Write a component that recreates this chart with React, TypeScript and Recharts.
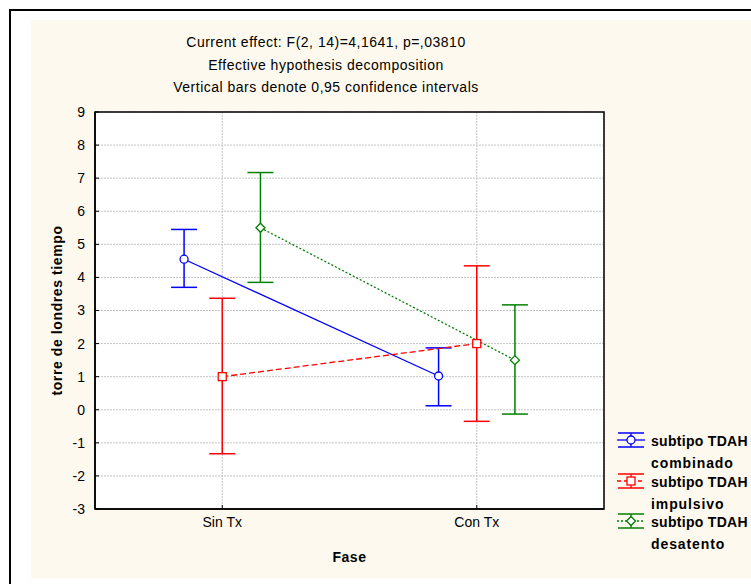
import {
  ComposedChart,
  Line,
  XAxis,
  YAxis,
  CartesianGrid,
  ErrorBar,
  ReferenceArea,
} from "recharts";

const categories = ["Sin Tx", "Con Tx"];
const yTicks = [-3, -2, -1, 0, 1, 2, 3, 4, 5, 6, 7, 8, 9];

const seriesNames = ["subtipo TDAH\ncombinado", "subtipo TDAH\nimpulsivo", "subtipo TDAH\ndesatento"];

const combinadoMean = [4.55, 1.02];
const combinadoLow = [3.7, 0.12];
const combinadoHigh = [5.45, 1.87];

const impulsivoMean = [1.0, 2.0];
const impulsivoLow = [-1.33, -0.35];
const impulsivoHigh = [3.37, 4.35];

const desatentoMean = [5.5, 1.5];
const desatentoLow = [3.85, -0.13];
const desatentoHigh = [7.17, 3.17];

const titleLines = [
  "Current effect: F(2, 14)=4,1641, p=,03810",
  "Effective hypothesis decomposition",
  "Vertical bars denote 0,95 confidence intervals",
];

const FONT = "'Liberation Sans', Arial, sans-serif";
const COLORS = ["#0000ff", "#ff0000", "#008000"];
const DASHES = [undefined, "6 3", "2 2"];
const OFFSETS = [-0.15, 0, 0.15];

function build(mean: number[], low: number[], high: number[], s: number) {
  return mean.map((m, i) => ({
    x: i + 0.5 + OFFSETS[s],
    y: m,
    err: [m - low[i], high[i] - m],
  }));
}

const series = [
  build(combinadoMean, combinadoLow, combinadoHigh, 0),
  build(impulsivoMean, impulsivoLow, impulsivoHigh, 1),
  build(desatentoMean, desatentoLow, desatentoHigh, 2),
];

function Marker({ s, cx, cy }: { s: number; cx: number; cy: number }) {
  const c = COLORS[s];
  if (s === 0) return <circle cx={cx} cy={cy} r={4} fill="#fff" stroke={c} strokeWidth={1.3} />;
  if (s === 1)
    return <rect x={cx - 4} y={cy - 4} width={8} height={8} fill="#fff" stroke={c} strokeWidth={1.3} />;
  return (
    <path
      d={`M${cx},${cy - 4.5}L${cx + 4.5},${cy}L${cx},${cy + 4.5}L${cx - 4.5},${cy}Z`}
      fill="#fff"
      stroke={c}
      strokeWidth={1.3}
    />
  );
}

function LegendIcon({ s }: { s: number }) {
  const c = COLORS[s];
  return (
    <svg width={28} height={16} style={{ display: "block" }}>
      <line x1={1} y1={1} x2={27} y2={1} stroke={c} strokeWidth={1.5} />
      <line x1={1} y1={15} x2={27} y2={15} stroke={c} strokeWidth={1.5} />
      <line x1={14} y1={1} x2={14} y2={15} stroke={c} strokeWidth={1.3} />
      <line x1={0} y1={8} x2={28} y2={8} stroke={c} strokeWidth={1.3} strokeDasharray={s === 2 ? "2 2" : s === 1 ? "4 3" : undefined} />
      <Marker s={s} cx={14} cy={8} />
    </svg>
  );
}

export default function App() {
  return (
    <div
      style={{
        position: "fixed",
        left: 0,
        top: 0,
        width: 751,
        height: 584,
        overflow: "hidden",
        background: "#fff",
        fontFamily: FONT,
      }}
    >
      <div
        style={{
          position: "absolute",
          left: 9,
          top: 9,
          width: 800,
          height: 600,
          borderLeft: "2px solid #000",
          borderTop: "2px solid #000",
        }}
      />
      <div
        style={{
          position: "absolute",
          left: 31,
          top: 20,
          width: 720,
          height: 558,
          background: "#fef9ee",
        }}
      />
      {titleLines.map((t, i) => (
        <div
          key={i}
          style={{
            position: "absolute",
            left: 126,
            width: 400,
            top: 33 + i * 22.5,
            textAlign: "center",
            fontSize: 14,
            letterSpacing: 0.5,
            lineHeight: "18px",
            color: "#000",
          }}
        >
          {t}
        </div>
      ))}
      <div style={{ position: "absolute", left: 0, top: 0 }}>
        <ComposedChart
          width={751}
          height={584}
          margin={{ top: 112, right: 147, bottom: 45, left: 0 }}
        >
          <CartesianGrid fill="#fff" stroke="#c4c4c4" strokeDasharray="2 1" />
          <XAxis
            dataKey="x"
            type="number"
            domain={[0, 2]}
            ticks={[0.5, 1.5]}
            allowDataOverflow
            height={30}
            tickSize={-4}
            tickMargin={12}
            tickFormatter={(v: number) => categories[Math.round(v - 0.5)]}
            tick={{ fill: "#000", fontSize: 14, fontFamily: FONT }}
            axisLine={{ stroke: "#000", strokeWidth: 1.5 }}
            tickLine={{ stroke: "#000" }}
            label={{
              content: ({ viewBox }: any) => (
                <text
                  x={viewBox.x + viewBox.width / 2}
                  y={557}
                  textAnchor="middle"
                  dominantBaseline="central"
                  fontSize={14}
                  fontWeight="bold"
                  letterSpacing={0.5}
                  fontFamily={FONT}
                  fill="#000"
                >
                  Fase
                </text>
              ),
            }}
          />
          <YAxis
            type="number"
            domain={[-3, 9]}
            ticks={yTicks}
            interval={0}
            width={95}
            tickSize={-4}
            tickMargin={14}
            tick={{ fill: "#000", fontSize: 14, fontFamily: FONT }}
            axisLine={{ stroke: "#000", strokeWidth: 1.5 }}
            tickLine={{ stroke: "#000" }}
            label={{
              content: ({ viewBox }: any) => {
                const cy = viewBox.y + viewBox.height / 2;
                return (
                  <text
                    x={57}
                    y={cy}
                    transform={`rotate(-90, 57, ${cy})`}
                    textAnchor="middle"
                    dominantBaseline="central"
                    fontSize={14}
                    fontWeight="bold"
                    letterSpacing={0.6}
                    fontFamily={FONT}
                    fill="#000"
                  >
                    torre de londres tiempo
                  </text>
                );
              },
            }}
          />
          <ReferenceArea
            x1={0}
            x2={2}
            y1={-3}
            y2={9}
            fill="none"
            stroke="#000"
            strokeWidth={1.5}
            ifOverflow="visible"
          />
          {series.map((data, s) => (
            <Line
              key={s}
              data={data}
              dataKey="y"
              type="linear"
              stroke={COLORS[s]}
              strokeWidth={1.3}
              strokeDasharray={DASHES[s]}
              isAnimationActive={false}
              dot={(p: any) => <Marker key={`d-${s}-${p.index}`} s={s} cx={p.cx} cy={p.cy} />}
              activeDot={false}
            >
              <ErrorBar
                dataKey="err"
                direction="y"
                width={13}
                stroke={COLORS[s]}
                strokeWidth={1.5}
                isAnimationActive={false}
              />
            </Line>
          ))}
        </ComposedChart>
      </div>
      <div style={{ position: "absolute", left: 617, top: 432 }}>
        {seriesNames.map((n, s) => {
          const [a, b] = n.split("\n");
          return (
            <div key={s} style={{ position: "absolute", top: s * 40.5, left: 0, width: 134 }}>
              <div style={{ position: "absolute", left: 0, top: 0 }}>
                <LegendIcon s={s} />
              </div>
              <div
                style={{
                  position: "absolute",
                  left: 34,
                  top: -2,
                  fontSize: 14,
                  fontWeight: "bold",
                  letterSpacing: 0.3,
                  lineHeight: "22px",
                  color: "#000",
                  whiteSpace: "nowrap",
                }}
              >
                <div>{a}</div>
                <div style={{ letterSpacing: 0.9 }}>{b}</div>
              </div>
            </div>
          );
        })}
      </div>
    </div>
  );
}
